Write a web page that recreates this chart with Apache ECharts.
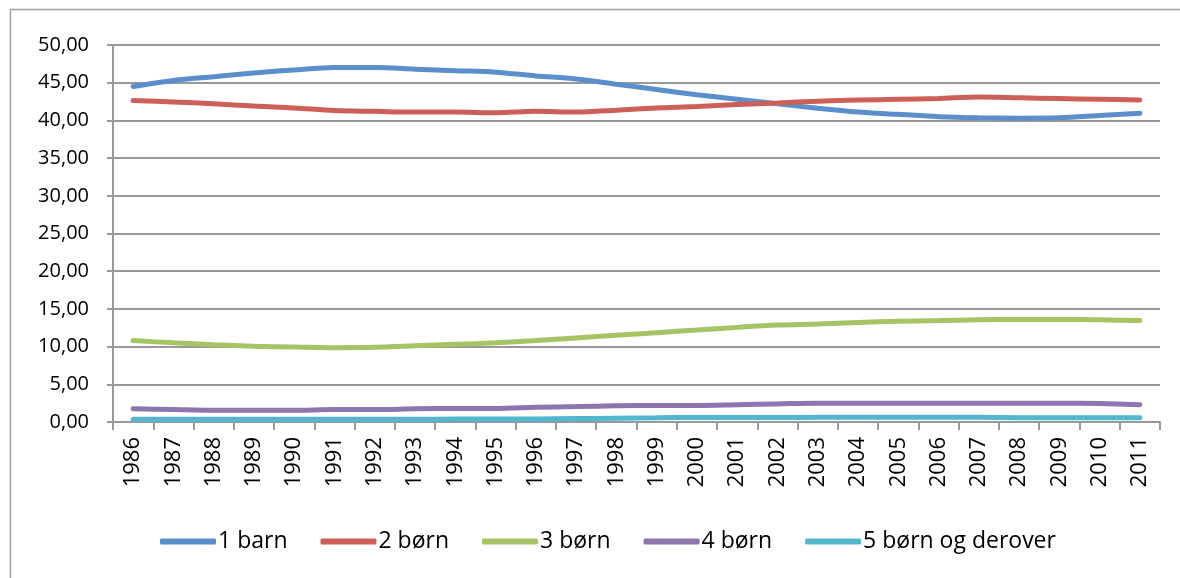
<!DOCTYPE html>
<html>
<head>
<meta charset="utf-8">
<script src="https://cdn.jsdelivr.net/npm/echarts@6/dist/echarts.min.js"></script>
<style>
  html, body { margin: 0; padding: 0; background: #fff; }
  #chart { width: 1180px; height: 578px; }
</style>
</head>
<body>
<div id="chart"></div>
<script>
const years = ['1986', '1987', '1988', '1989', '1990', '1991', '1992', '1993', '1994', '1995', '1996', '1997', '1998',
    '1999', '2000', '2001', '2002', '2003', '2004', '2005', '2006', '2007', '2008', '2009', '2010', '2011'];

const barn1 = [44.5, 45.3, 45.8, 46.3, 46.7, 47.0, 47.0, 46.8, 46.6, 46.4, 45.9, 45.5, 44.8,
    44.1, 43.4, 42.8, 42.2, 41.6, 41.1, 40.8, 40.5, 40.35, 40.3, 40.35, 40.65, 40.95];
const boern2 = [42.65, 42.45, 42.2, 41.9, 41.65, 41.3, 41.2, 41.1, 41.1, 41.0, 41.2, 41.1, 41.35,
    41.65, 41.85, 42.1, 42.3, 42.55, 42.7, 42.8, 42.9, 43.1, 43.0, 42.9, 42.8, 42.7];
const boern3 = [10.8, 10.5, 10.25, 10.05, 9.95, 9.85, 9.9, 10.1, 10.3, 10.5, 10.8, 11.15, 11.5,
    11.85, 12.2, 12.55, 12.85, 13.0, 13.2, 13.35, 13.45, 13.55, 13.6, 13.6, 13.55, 13.45];
const boern4 = [1.75, 1.65, 1.55, 1.55, 1.55, 1.65, 1.65, 1.75, 1.8, 1.8, 1.95, 2.05, 2.15,
    2.2, 2.2, 2.3, 2.4, 2.5, 2.5, 2.5, 2.5, 2.5, 2.5, 2.5, 2.45, 2.3];
const boern5 = [0.35, 0.35, 0.35, 0.35, 0.35, 0.35, 0.35, 0.35, 0.4, 0.4, 0.4, 0.45, 0.5,
    0.55, 0.6, 0.6, 0.6, 0.62, 0.62, 0.62, 0.62, 0.62, 0.57, 0.57, 0.57, 0.57];

const seriesNames = ['1 barn', '2 børn', '3 børn', '4 børn', '5 børn og derover'];
const seriesColors = ['#5a8fcb', '#cd5f59', '#a5c464', '#8d76b0', '#52b6cf'];
const seriesData = [barn1, boern2, boern3, boern4, boern5];

const font = '"Open Sans", "Noto Sans", sans-serif';

var myChart = echarts.init(document.getElementById('chart'));

myChart.setOption({
    animation: false,
    color: seriesColors,
    graphic: [
        {
            // outer chart frame, runs off the right and bottom edge like the original
            type: 'rect',
            shape: { x: 10.5, y: 9.5, width: 1180, height: 580 },
            style: { fill: 'none', stroke: '#a0a0a0', lineWidth: 1.5 },
            z: -1
        }
    ],
    grid: {
        left: 113,
        right: 20,
        top: 45,
        bottom: 156
    },
    legend: {
        left: 155,
        top: 525,
        itemWidth: 56,
        itemHeight: 6,
        itemGap: 33,
        icon: 'roundRect',
        textStyle: {
            fontFamily: font,
            fontSize: 23,
            color: '#000',
            padding: [0, 0, 0, -3]
        },
        data: seriesNames
    },
    xAxis: {
        type: 'category',
        data: years,
        boundaryGap: true,
        axisLine: { lineStyle: { color: '#999999', width: 2 } },
        axisTick: { show: true, length: 8, lineStyle: { color: '#999999', width: 2 } },
        axisLabel: {
            rotate: 90,
            interval: 0,
            margin: 15,
            fontFamily: font,
            fontSize: 22,
            color: '#000'
        }
    },
    yAxis: {
        type: 'value',
        min: 0,
        max: 50,
        interval: 5,
        axisLine: { show: true, lineStyle: { color: '#999999', width: 2 } },
        axisTick: { show: true, length: 6, lineStyle: { color: '#999999', width: 2 } },
        splitLine: { lineStyle: { color: '#999999', width: 2 } },
        axisLabel: {
            margin: 24,
            fontFamily: font,
            fontSize: 20,
            color: '#000',
            formatter: v => v.toFixed(2).replace('.', ',')
        }
    },
    series: seriesNames.map((name, i) => ({
        name: name,
        type: 'line',
        data: seriesData[i],
        smooth: 0.3,
        showSymbol: false,
        lineStyle: { width: 5, color: seriesColors[i], cap: 'round' }
    }))
});
</script>
</body>
</html>
